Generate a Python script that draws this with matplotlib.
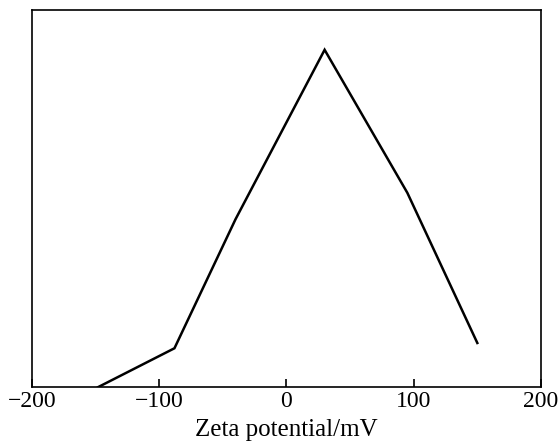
import matplotlib
matplotlib.use("Agg")
import matplotlib.pyplot as plt

# values (y in arbitrary units, no y scale shown)
zeta = [-148, -88, -40, 30, 95, 150]
response = [0.0, 0.103, 0.445, 0.894, 0.515, 0.117]
xticks = [-200, -100, 0, 100, 200]

plt.rcParams["font.family"] = ["Liberation Serif", "DejaVu Serif"]

fig = plt.figure(figsize=(5.6, 4.46), dpi=100)
ax = fig.add_axes([0.057, 0.132, 0.909, 0.846])

ax.plot(zeta, response, color="black", linewidth=1.8, solid_joinstyle="miter")

ax.set_xlim(-200, 200)
ax.set_ylim(0, 1)
ax.set_xticks(xticks)
ax.set_xticklabels([f"{v:d}".replace("-", "\u2212") for v in xticks])
ax.set_yticks([])
ax.tick_params(axis="x", direction="in", length=6, width=1.2, labelsize=17, pad=3)
for s in ax.spines.values():
    s.set_linewidth(1.2)
    s.set_color("black")

ax.set_xlabel("Zeta potential/mV", fontsize=18, labelpad=5)

fig.savefig("out.png", dpi=100)
